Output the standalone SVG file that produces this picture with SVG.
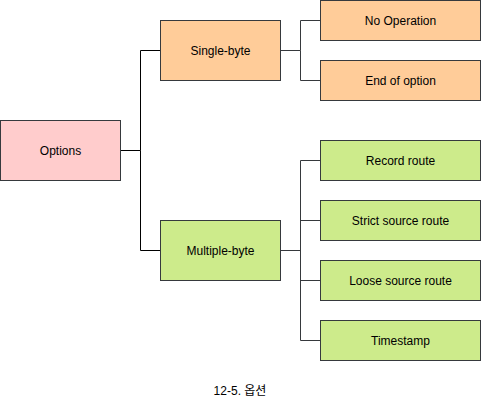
<svg xmlns="http://www.w3.org/2000/svg" width="481" height="401" viewBox="0 0 481 401">
<style>
.box{stroke:#36393d;stroke-width:1}
.orange{fill:#ffcc99}
.pink{fill:#ffcccc}
.green{fill:#cdeb8b}
.lbl{font-family:"Liberation Sans",Arial,Helvetica,sans-serif;font-size:12px;fill:#000;text-anchor:middle;dominant-baseline:central}
.edge{fill:none;stroke-width:1}
</style>
<rect width="481" height="401" fill="#ffffff"/>
<g id="connectors">
<path class="edge" stroke="#000000" d="M120.5 150.5H140.5V50.5H160.5M140.5 150.5V250.5H160.5"/>
<path class="edge" stroke="#36393d" d="M280.5 50.5H300.5V20.5H320.5M300.5 50.5V80.5H320.5"/>
<path class="edge" stroke="#36393d" d="M280.5 250.5H300.5M300.5 160.5V340.5M300.5 160.5H320.5M300.5 220.5H320.5M300.5 280.5H320.5M300.5 340.5H320.5"/>
</g>
<g id="options"><rect class="box pink" x="0.5" y="120.5" width="120" height="60"/><text class="lbl" x="60.5" y="150.5">Options</text></g>
<g id="single-byte"><rect class="box orange" x="160.5" y="20.5" width="120" height="60"/><text class="lbl" x="220.5" y="50.5">Single-byte</text></g>
<g id="multiple-byte"><rect class="box green" x="160.5" y="220.5" width="120" height="60"/><text class="lbl" x="220.5" y="250.5">Multiple-byte</text></g>
<g id="no-operation"><rect class="box orange" x="320.5" y="0.5" width="160" height="40"/><text class="lbl" x="400.5" y="20.5">No Operation</text></g>
<g id="end-of-option"><rect class="box orange" x="320.5" y="60.5" width="160" height="40"/><text class="lbl" x="400.5" y="80.5">End of option</text></g>
<g id="record-route"><rect class="box green" x="320.5" y="140.5" width="160" height="40"/><text class="lbl" x="400.5" y="160.5">Record route</text></g>
<g id="strict-source-route"><rect class="box green" x="320.5" y="200.5" width="160" height="40"/><text class="lbl" x="400.5" y="220.5">Strict source route</text></g>
<g id="loose-source-route"><rect class="box green" x="320.5" y="260.5" width="160" height="40"/><text class="lbl" x="400.5" y="280.5">Loose source route</text></g>
<g id="timestamp"><rect class="box green" x="320.5" y="320.5" width="160" height="40"/><text class="lbl" x="400.5" y="340.5">Timestamp</text></g>
<text class="lbl" x="240" y="391" style="font-family:'Liberation Sans','Noto Sans CJK KR',sans-serif;font-size:12px">12-5. 옵션</text>
</svg>
